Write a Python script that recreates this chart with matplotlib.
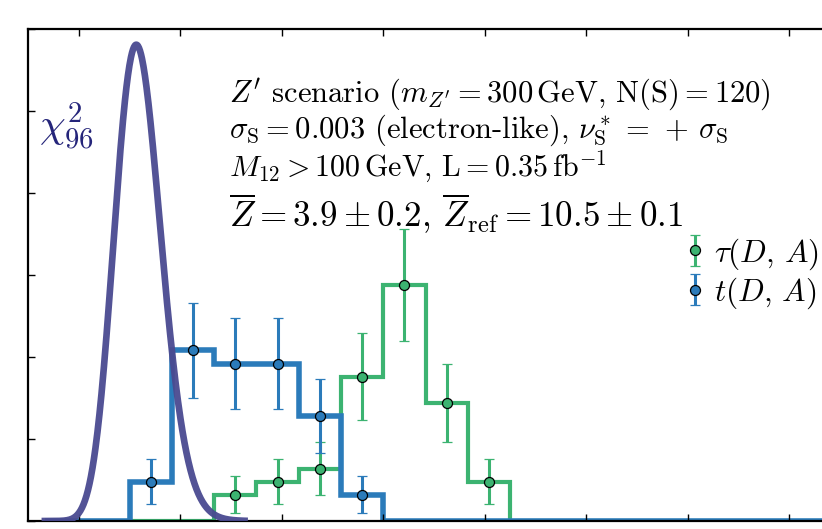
import math
import numpy as np
import matplotlib
matplotlib.use("Agg")
import matplotlib.pyplot as plt

plt.rcParams["mathtext.fontset"] = "cm"
plt.rcParams["font.family"] = "serif"
plt.rcParams["font.serif"] = ["cmr10", "DejaVu Serif"]
plt.rcParams["axes.formatter.use_mathtext"] = True

# histogram of 50 toys each, bins of 25 in the test statistic
n_toys = 50
bin_edges = np.arange(40, 541, 25)
t_counts = [0, 0, 3, 13, 12, 12, 8, 2, 0, 0, 0, 0, 0, 0, 0, 0, 0, 0, 0, 0]
tau_counts = [0, 0, 0, 0, 2, 3, 4, 11, 18, 9, 3, 0, 0, 0, 0, 0, 0, 0, 0, 0]
chi2_dof = 96
chi2_range = (40, 158)

blue = "#2b7bba"
green = "#3cb371"
purple = "#4a4a90"

text_lines = [
    r"$Z'$ scenario ($m_{Z'}=300\,\mathrm{GeV}$, $\mathrm{N(S)}=120$)",
    r"$\sigma_{\mathrm{S}}=0.003$ (electron-like), $\nu^*_{\mathrm{S}}\,=\,+\,\sigma_{\mathrm{S}}$",
    r"$M_{12}>100\,\mathrm{GeV}$, $\mathrm{L}=0.35\,\mathrm{fb}^{-1}$",
]
text_sizes = [22, 22, 21.6]
z_line = r"$\overline{Z}=3.9\pm0.2$, $\overline{Z}_{\mathrm{ref}}=10.5\pm0.1$"


def chi2_pdf(x, k):
    return np.exp((k / 2 - 1) * np.log(x) - x / 2 - (k / 2) * math.log(2) - math.lgamma(k / 2))


W, H = 822, 529
fig = plt.figure(figsize=(W / 100, H / 100), dpi=100)
ax = fig.add_axes([28 / W, 8 / H, (840 - 28) / W, 492 / H])

width = bin_edges[1] - bin_edges[0]
centers = (bin_edges[:-1] + bin_edges[1:]) / 2
for counts, col, lw, lab in [(tau_counts, green, 3.0, r"$\tau(D,\,A)$"),
                             (t_counts, blue, 4.0, r"$t(D,\,A)$")]:
    c = np.array(counts, dtype=float)
    dens = c / (n_toys * width)
    err = np.sqrt(c) / (n_toys * width)
    ax.stairs(dens, bin_edges, color=col, lw=lw, baseline=None)
    m = c > 0
    ax.errorbar(centers[m], dens[m], yerr=err[m], fmt="o", color=col, ecolor=col,
                elinewidth=2.2, capsize=3.8, capthick=1.6, ms=7.2, mec="black", mew=0.9,
                label=lab)

xs = np.linspace(chi2_range[0], chi2_range[1], 400)
ax.plot(xs, chi2_pdf(xs, chi2_dof), color=purple, lw=4.8, alpha=0.95, zorder=3)
ax.text(36.5, 0.0233, r"$\chi^2_{96}$", color="#25257a", fontsize=29.5, va="baseline")

ax.set_xlim(30, 30 + (840 - 28) * 60 / 101.5)
ax.set_ylim(0, 0.030)
ax.set_xticks(np.arange(60, 520, 60))
ax.set_yticks(np.arange(0, 0.031, 0.005))
ax.tick_params(direction="in", top=True, right=True, length=5, width=1,
               labelbottom=False, labelleft=False)
for s in ax.spines.values():
    s.set_linewidth(1.6)

ys = [102, 138, 177]
for y, s, fs in zip(ys, text_lines, text_sizes):
    fig.text(229 / W, 1 - y / H, s, fontsize=fs, va="baseline", ha="left")
fig.text(229 / W, 1 - 227 / H, z_line, fontsize=25.2, va="baseline", ha="left")

handles, labels = ax.get_legend_handles_labels()
ax.legend(handles, labels, loc="upper left", bbox_to_anchor=(686 / W, 1 - 236 / H),
          bbox_transform=fig.transFigure, frameon=False, fontsize=22.5,
          handlelength=0.6, handletextpad=0.3, borderpad=0, borderaxespad=0,
          labelspacing=0.12, numpoints=1)

fig.savefig("out.png", dpi=100)
